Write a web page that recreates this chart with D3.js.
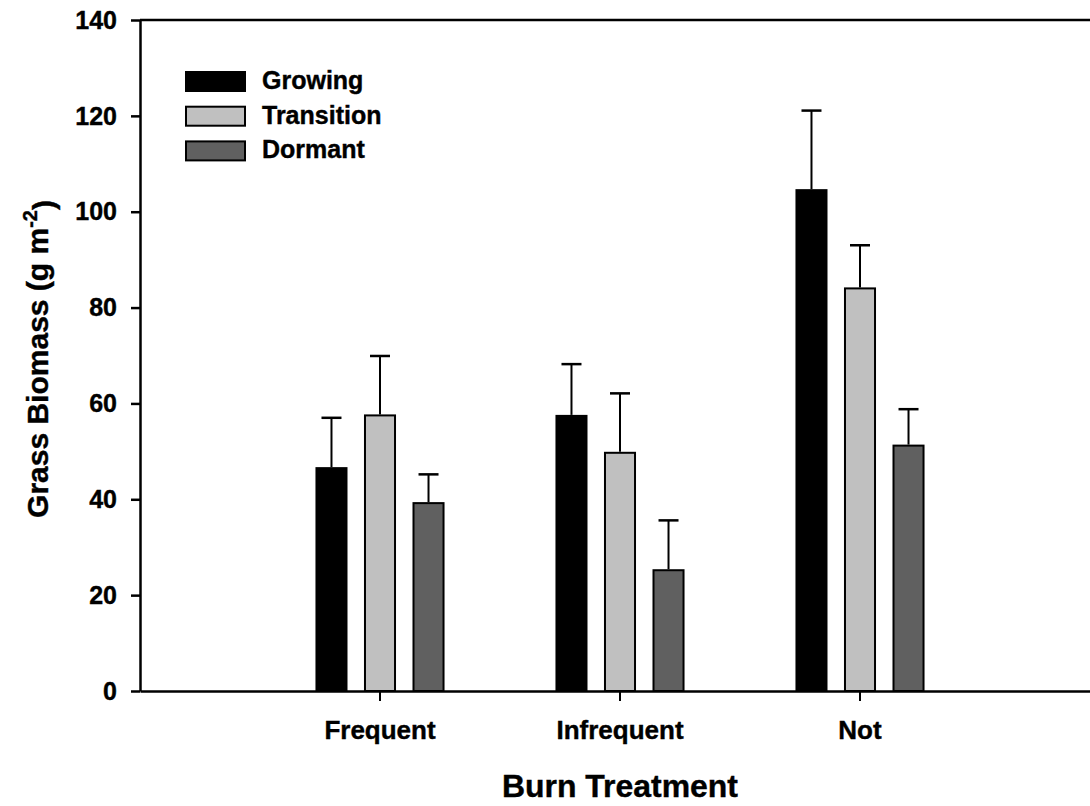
<!DOCTYPE html>
<html>
<head>
<meta charset="utf-8">
<script src="https://cdn.jsdelivr.net/npm/d3@7"></script>
<style>
  html, body { margin: 0; padding: 0; background: #fff; }
  svg { display: block; }
  text { font-family: "Liberation Sans", Arial, sans-serif; font-weight: bold; fill: #000; stroke: #000; stroke-width: 0.4px; }
</style>
</head>
<body>
<svg id="chart" width="1090" height="806"></svg>
<script>
const categories = ["Frequent", "Infrequent", "Not"];
const seriesNames = ["Growing", "Transition", "Dormant"];
const growing = [46.5, 57.4, 104.5];
const growingSE = [10.5, 10.8, 16.6];
const transition = [57.5, 49.7, 84.0];
const transitionSE = [12.4, 12.4, 9.0];
const dormant = [39.2, 25.2, 51.2];
const dormantSE = [6.0, 10.4, 7.6];
const yTicks = [0, 20, 40, 60, 80, 100, 120, 140];
const colors = ["#000000", "#c0c0c0", "#606060"];

const seriesValues = [growing, transition, dormant];
const seriesSE = [growingSE, transitionSE, dormantSE];

const svg = d3.select("#chart");
const W = 1090, H = 806;
const plotLeft = 140, plotRight = 1100, plotTop = 20, plotBottom = 691;

const y = d3.scaleLinear().domain([0, 140]).range([plotBottom, plotTop]);
const x = d3.scaleBand().domain(categories).range([plotLeft, plotRight]).paddingInner(0).paddingOuter(0.5);
const xi = d3.scaleBand().domain(seriesNames).range([-72.75, 72.75]).paddingInner(0.381).paddingOuter(0.19);

const data = [];
categories.forEach((c, ci) => {
  seriesNames.forEach((s, si) => {
    data.push({ cat: c, series: s, value: seriesValues[si][ci], se: seriesSE[si][ci], color: colors[si] });
  });
});

const barX = d => x(d.cat) + x.bandwidth() / 2 + xi(d.series);
const barC = d => barX(d) + xi.bandwidth() / 2;

// bars
const g = svg.append("g");
g.selectAll("rect.bar").data(data).enter().append("rect")
  .attr("class", "bar")
  .attr("x", barX)
  .attr("width", xi.bandwidth())
  .attr("y", d => y(d.value))
  .attr("height", d => y(0) - y(d.value))
  .attr("fill", d => d.color)
  .attr("stroke", "#000")
  .attr("stroke-width", 2);

// error bars (upper only)
const capHalf = 10;
const eb = g.selectAll("g.err").data(data).enter().append("g").attr("class", "err");
eb.append("line")
  .attr("x1", barC).attr("x2", barC)
  .attr("y1", d => y(d.value) - 1)
  .attr("y2", d => y(d.value + d.se))
  .attr("stroke", "#000").attr("stroke-width", 2);
eb.append("line")
  .attr("x1", d => barC(d) - capHalf)
  .attr("x2", d => barC(d) + capHalf)
  .attr("y1", d => y(d.value + d.se))
  .attr("y2", d => y(d.value + d.se))
  .attr("stroke", "#000").attr("stroke-width", 2.5);

// top border
svg.append("line")
  .attr("x1", plotLeft).attr("x2", W)
  .attr("y1", y(140)).attr("y2", y(140))
  .attr("stroke", "#000").attr("stroke-width", 2.5);

// y axis
const yAxis = svg.append("g")
  .attr("transform", `translate(${plotLeft},0)`)
  .call(d3.axisLeft(y).tickValues(yTicks).tickSize(9).tickPadding(14).tickSizeOuter(0));
yAxis.select(".domain").attr("stroke", "#000").attr("stroke-width", 2.5);
yAxis.selectAll(".tick line").attr("stroke", "#000").attr("stroke-width", 2.5);
yAxis.selectAll(".tick text")
  .style("font-family", "'Liberation Sans', Arial, sans-serif")
  .style("font-weight", "bold").style("font-size", "25px").attr("dy", "0.33em");

// x axis
const xAxis = svg.append("g")
  .attr("transform", `translate(0,${plotBottom})`)
  .call(d3.axisBottom(x).tickSize(10).tickPadding(20).tickSizeOuter(0));
xAxis.select(".domain").attr("stroke", "#000").attr("stroke-width", 2.5);
xAxis.selectAll(".tick line").attr("stroke", "#000").attr("stroke-width", 2);
xAxis.selectAll(".tick text")
  .style("font-family", "'Liberation Sans', Arial, sans-serif")
  .style("font-weight", "bold").style("font-size", "26px")
  .attr("dy", "0.68em")
  .attr("textLength", null);

// axis titles
svg.append("text")
  .attr("x", 620).attr("y", 797)
  .attr("text-anchor", "middle")
  .style("font-size", "31px")
  .attr("textLength", 236)
  .attr("lengthAdjust", "spacingAndGlyphs")
  .text("Burn Treatment");

const yt = svg.append("text")
  .attr("transform", "translate(48,359) rotate(-90)")
  .attr("text-anchor", "middle")
  .style("font-size", "30px");
yt.append("tspan").text("Grass Biomass (g m");
yt.append("tspan").attr("dy", "-0.55em").style("font-size", "20px").text("-2");
yt.append("tspan").attr("dy", "0.55em").text(")");

// legend
const legend = svg.append("g");
seriesNames.forEach((s, i) => {
  const ly = 72 + i * 34.7;
  legend.append("rect")
    .attr("x", 186).attr("y", ly)
    .attr("width", 59).attr("height", 19)
    .attr("fill", colors[i]).attr("stroke", "#000").attr("stroke-width", 2);
  legend.append("text")
    .attr("x", 262).attr("y", ly + 17)
    .style("font-size", "25px")
    .text(s);
});
</script>
</body>
</html>
